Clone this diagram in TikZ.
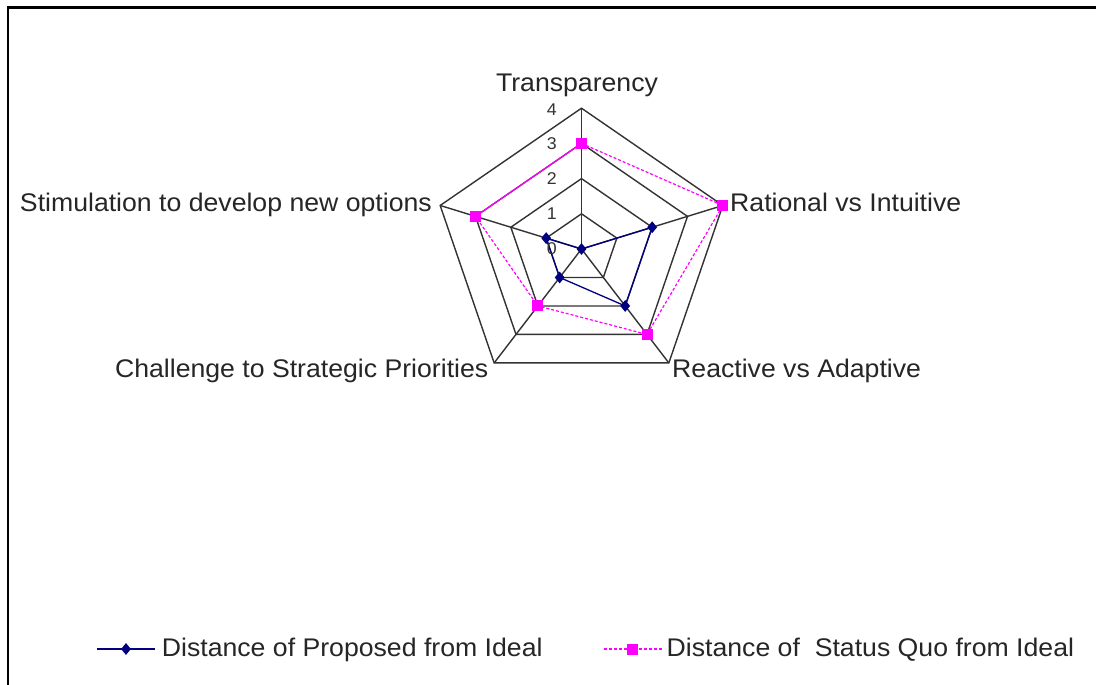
\documentclass[tikz,border=0pt]{standalone}
\usepackage{fontspec}
\setmainfont{Liberation Sans}[FakeStretch=1.045]
\usetikzlibrary{shapes.geometric}
\definecolor{gridgray}{HTML}{333333}
\definecolor{propnavy}{HTML}{000080}
\definecolor{sqmagenta}{HTML}{FF00FF}

\begin{document}
\begin{tikzpicture}[x=1pt,y=-1pt,
  gridline/.style={draw=gridgray, line width=1.4pt},
  proposed/.style={draw=propnavy, line width=1.3pt},
  statusquo/.style={draw=sqmagenta, line width=1.2pt, dash pattern=on 3pt off 2pt},
  dmark/.style={diamond, fill=propnavy, inner sep=0pt, minimum width=10pt, minimum height=12pt},
  smark/.style={rectangle, fill=sqmagenta, inner sep=0pt, minimum size=11pt},
  catlabel/.style={font=\fontsize{25.5}{30}\selectfont, text=black!85, inner sep=0pt},
  ticklabel/.style={font=\fontsize{17}{20}\selectfont, text=black!80, inner sep=0pt, anchor=east},
]
\useasboundingbox (0,0) rectangle (1096,685);
\fill[white] (0,0) rectangle (1096,685);

% outer frame (top and left edges)
\draw[line width=2.2pt] (8.3,690) -- (8.3,7.5) -- (1100,7.5);

% radar chart
\coordinate (c) at (581.5,249);
\begin{scope}[shift={(c)}, x=37.15pt, y=35.2pt]
  % axis ends
  \coordinate (axT) at (90:4);
  \coordinate (axR) at (18:4);
  \coordinate (axA) at (-54:4);
  \coordinate (axC) at (-126:4);
  \coordinate (axS) at (162:4);
  \coordinate (o) at (0,0);

  % grid rings
  \foreach \r in {1,2,3,4}
    \draw[gridline] (90:\r) -- (18:\r) -- (-54:\r) -- (-126:\r) -- (162:\r) -- cycle;
  % spokes
  \foreach \e in {axT,axR,axA,axC,axS}
    \draw[gridline] (o) -- (\e);

  % Proposed: 0, 2, 2, 1, 1
  \coordinate (p1) at (90:0);
  \coordinate (p2) at (18:2);
  \coordinate (p3) at (-54:2);
  \coordinate (p4) at (-126:1);
  \coordinate (p5) at (162:1);
  \draw[proposed] (p1) -- (p2) -- (p3) -- (p4) -- (p5) -- cycle;
  \foreach \i in {1,...,5}
    \node[dmark] (pm\i) at (p\i) {};

  % Status quo: 3, 4, 3, 2, 3
  \coordinate (q1) at (90:3);
  \coordinate (q2) at (18:4);
  \coordinate (q3) at (-54:3);
  \coordinate (q4) at (-126:2);
  \coordinate (q5) at (162:3);
  \draw[statusquo] (q1) -- (q2) -- (q3) -- (q4) -- (q5);
  \draw[draw=sqmagenta, line width=1.2pt] (q5) -- (q1);
  \foreach \i in {1,...,5}
    \node[smark] (qm\i) at (q\i) {};
\end{scope}

% scale values
\node[ticklabel] (t4) at (557,110) {4};
\node[ticklabel] (t3) at (557,143.5) {3};
\node[ticklabel] (t2) at (557,178.5) {2};
\node[ticklabel] (t1) at (557,213.5) {1};
\node[ticklabel] (t0) at (557,248.5) {0};

% category labels
\node[catlabel, anchor=base] (lT) at (577,92) {Transparency};
\node[catlabel, anchor=base west] (lR) at (730,211.7) {Rational vs Intuitive};
\node[catlabel, anchor=base west] (lA) at (672,377) {Reactive vs Adaptive};
\node[catlabel, anchor=base east] (lC) at (488.5,377) {Challenge to Strategic Priorities};
\node[catlabel, anchor=base east] (lS) at (432,211.5) {Stimulation to develop new options};

% legend
\coordinate (g1a) at (96.7,649);
\coordinate (g1b) at (155,649);
\draw[proposed] (g1a) -- (g1b);
\node[dmark] (g1m) at (126,649) {};
\node[catlabel, anchor=base west] (g1t) at (161.7,656) {Distance of Proposed from Ideal};

\coordinate (g2a) at (604,649);
\coordinate (g2b) at (663,649);
\draw[statusquo] (g2a) -- (g2b);
\node[smark] (g2m) at (632,649) {};
\node[catlabel, anchor=base west] (g2t) at (666.5,656) {Distance of \ Status Quo from Ideal};
\end{tikzpicture}
\end{document}
